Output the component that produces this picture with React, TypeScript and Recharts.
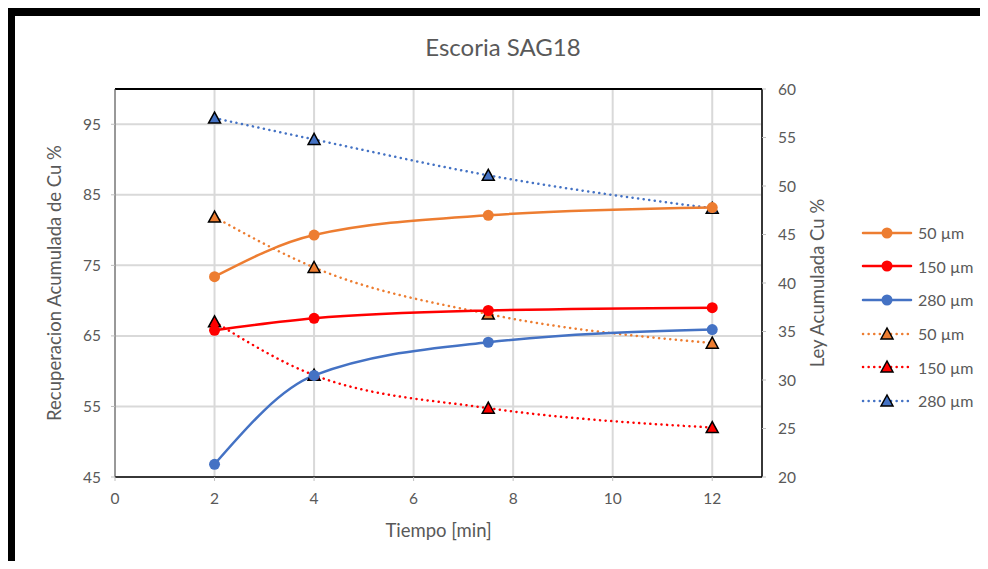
import {
  ComposedChart,
  Line,
  XAxis,
  YAxis,
  CartesianGrid,
  ReferenceLine,
} from "recharts";

const tiempo = [2, 4, 7.5, 12];

// Recuperacion acumulada de Cu % (eje izquierdo)
const rec50 = [73.4, 79.3, 82.1, 83.2];
const rec150 = [65.8, 67.5, 68.6, 69.0];
const rec280 = [46.8, 59.4, 64.1, 65.9];

// Ley acumulada Cu % (eje derecho)
const ley50 = [46.8, 41.6, 36.8, 33.8];
const ley150 = [36.0, 30.5, 27.1, 25.1];
const ley280 = [57.0, 54.8, 51.1, 47.7];

const xTicks = [0, 2, 4, 6, 8, 10, 12];
const leftTicks = [45, 55, 65, 75, 85, 95];
const rightTicks = [20, 25, 30, 35, 40, 45, 50, 55, 60];

const ORANGE = "#ED7D31";
const RED = "#FF0000";
const BLUE = "#4472C4";
const TEXT = "#595959";
const FONT = "Lato, 'Open Sans', sans-serif";

const data = tiempo.map((t, i) => ({
  t,
  rec50: rec50[i],
  rec150: rec150[i],
  rec280: rec280[i],
  ley50: ley50[i],
  ley150: ley150[i],
  ley280: ley280[i],
}));

const legendItems = [
  { label: "50 µm", color: ORANGE, dotted: false },
  { label: "150 µm", color: RED, dotted: false },
  { label: "280 µm", color: BLUE, dotted: false },
  { label: "50 µm", color: ORANGE, dotted: true },
  { label: "150 µm", color: RED, dotted: true },
  { label: "280 µm", color: BLUE, dotted: true },
];

function triangle(color: string) {
  return (props: any) => {
    const { cx, cy, index } = props;
    if (cx == null || cy == null) return <g key={index} />;
    return (
      <polygon
        key={index}
        points={`${cx},${cy - 6} ${cx - 6},${cy + 5} ${cx + 6},${cy + 5}`}
        fill={color}
        stroke="#000"
        strokeWidth={1.5}
      />
    );
  };
}

const tickStyle = { fill: TEXT, fontSize: 15.5, fontFamily: FONT };
const labelStyle = { fill: TEXT, fontSize: 18.5, fontFamily: FONT };

export default function App() {
  return (
    <div
      style={{
        position: "relative",
        width: 988,
        height: 569,
        margin: -8,
        background: "#fff",
        fontFamily: FONT,
      }}
    >
      <div
        style={{
          position: "absolute",
          left: 7,
          top: 8,
          width: 981,
          height: 558,
          borderTop: "8px solid #000",
          borderLeft: "8px solid #000",
          boxSizing: "border-box",
        }}
      />
      <div
        style={{
          position: "absolute",
          left: 7,
          top: 564,
          width: 981,
          height: 3,
          background: "#222",
        }}
      />
      <div
        style={{
          position: "absolute",
          top: 32,
          left: 0,
          width: 1006,
          textAlign: "center",
          fontSize: 24,
          color: TEXT,
        }}
      >
        Escoria SAG18
      </div>
      <div style={{ position: "absolute", left: 0, top: 0 }}>
        <ComposedChart
          width={988}
          height={560}
          data={data}
          margin={{ top: 89, right: 166, bottom: 53, left: 55 }}
        >
          <CartesianGrid yAxisId="left" stroke="#d9d9d9" strokeWidth={2} />
          <XAxis
            dataKey="t"
            type="number"
            domain={[0, 13]}
            ticks={xTicks}
            height={30}
            tick={tickStyle}
            tickSize={4}
            tickMargin={12}
            axisLine={{ stroke: "#000", strokeWidth: 1.5 }}
            tickLine={{ stroke: "#bfbfbf" }}
            label={{
              value: "Tiempo [min]",
              position: "insideBottom",
              offset: -30,
              ...labelStyle,
            }}
          />
          <YAxis
            yAxisId="left"
            orientation="left"
            domain={[45, 100]}
            ticks={leftTicks}
            width={60}
            tick={tickStyle}
            tickSize={4}
            tickMargin={10}
            axisLine={{ stroke: "#595959", strokeWidth: 1 }}
            tickLine={{ stroke: "#bfbfbf" }}
            label={{
              value: "Recuperacion Acumulada de Cu %",
              angle: -90,
              position: "insideLeft",
              offset: -1,
              style: { textAnchor: "middle" },
              ...labelStyle,
            }}
          />
          <YAxis
            yAxisId="right"
            orientation="right"
            domain={[20, 60]}
            ticks={rightTicks}
            width={60}
            tick={{ ...tickStyle, textAnchor: "start" }}
            tickSize={4}
            tickMargin={12}
            axisLine={{ stroke: "#000", strokeWidth: 1.5 }}
            tickLine={{ stroke: "#bfbfbf" }}
            label={{
              value: "Ley Acumulada Cu %",
              angle: -90,
              position: "insideRight",
              offset: 5,
              style: { textAnchor: "middle" },
              ...labelStyle,
            }}
          />
          <ReferenceLine yAxisId="left" y={100} stroke="#000" strokeWidth={2} />

          <Line
            yAxisId="right"
            dataKey="ley50"
            type="monotone"
            stroke={ORANGE}
            strokeWidth={2.5}
            strokeDasharray="0.1 5.5"
            strokeLinecap="round"
            dot={triangle(ORANGE)}
            isAnimationActive={false}
          />
          <Line
            yAxisId="right"
            dataKey="ley150"
            type="monotone"
            stroke={RED}
            strokeWidth={2.5}
            strokeDasharray="0.1 5.5"
            strokeLinecap="round"
            dot={triangle(RED)}
            isAnimationActive={false}
          />
          <Line
            yAxisId="right"
            dataKey="ley280"
            type="monotone"
            stroke={BLUE}
            strokeWidth={2.5}
            strokeDasharray="0.1 5.5"
            strokeLinecap="round"
            dot={triangle(BLUE)}
            isAnimationActive={false}
          />
          <Line
            yAxisId="left"
            dataKey="rec50"
            type="monotone"
            stroke={ORANGE}
            strokeWidth={2.5}
            dot={{ r: 5.5, fill: ORANGE, stroke: ORANGE, strokeWidth: 0 }}
            isAnimationActive={false}
          />
          <Line
            yAxisId="left"
            dataKey="rec150"
            type="monotone"
            stroke={RED}
            strokeWidth={2.5}
            dot={{ r: 5.5, fill: RED, stroke: RED, strokeWidth: 0 }}
            isAnimationActive={false}
          />
          <Line
            yAxisId="left"
            dataKey="rec280"
            type="monotone"
            stroke={BLUE}
            strokeWidth={2.5}
            dot={{ r: 5.5, fill: BLUE, stroke: BLUE, strokeWidth: 0 }}
            isAnimationActive={false}
          />
        </ComposedChart>
      </div>
      <div style={{ position: "absolute", left: 860, top: 216 }}>
        {legendItems.map((it, i) => (
          <div
            key={i}
            style={{ display: "flex", alignItems: "center", height: 33.6 }}
          >
            <svg width={56} height={20}>
              <line
                x1={3}
                y1={10}
                x2={51}
                y2={10}
                stroke={it.color}
                strokeWidth={2.5}
                strokeDasharray={it.dotted ? "0.1 5.5" : undefined}
                strokeLinecap="round"
              />
              {it.dotted ? (
                <polygon
                  points="27,4 21,15 33,15"
                  fill={it.color}
                  stroke="#000"
                  strokeWidth={1.5}
                />
              ) : (
                <circle cx={27} cy={10} r={5.5} fill={it.color} />
              )}
            </svg>
            <span style={{ fontSize: 16, color: TEXT, marginLeft: 2 }}>
              {it.label}
            </span>
          </div>
        ))}
      </div>
    </div>
  );
}
